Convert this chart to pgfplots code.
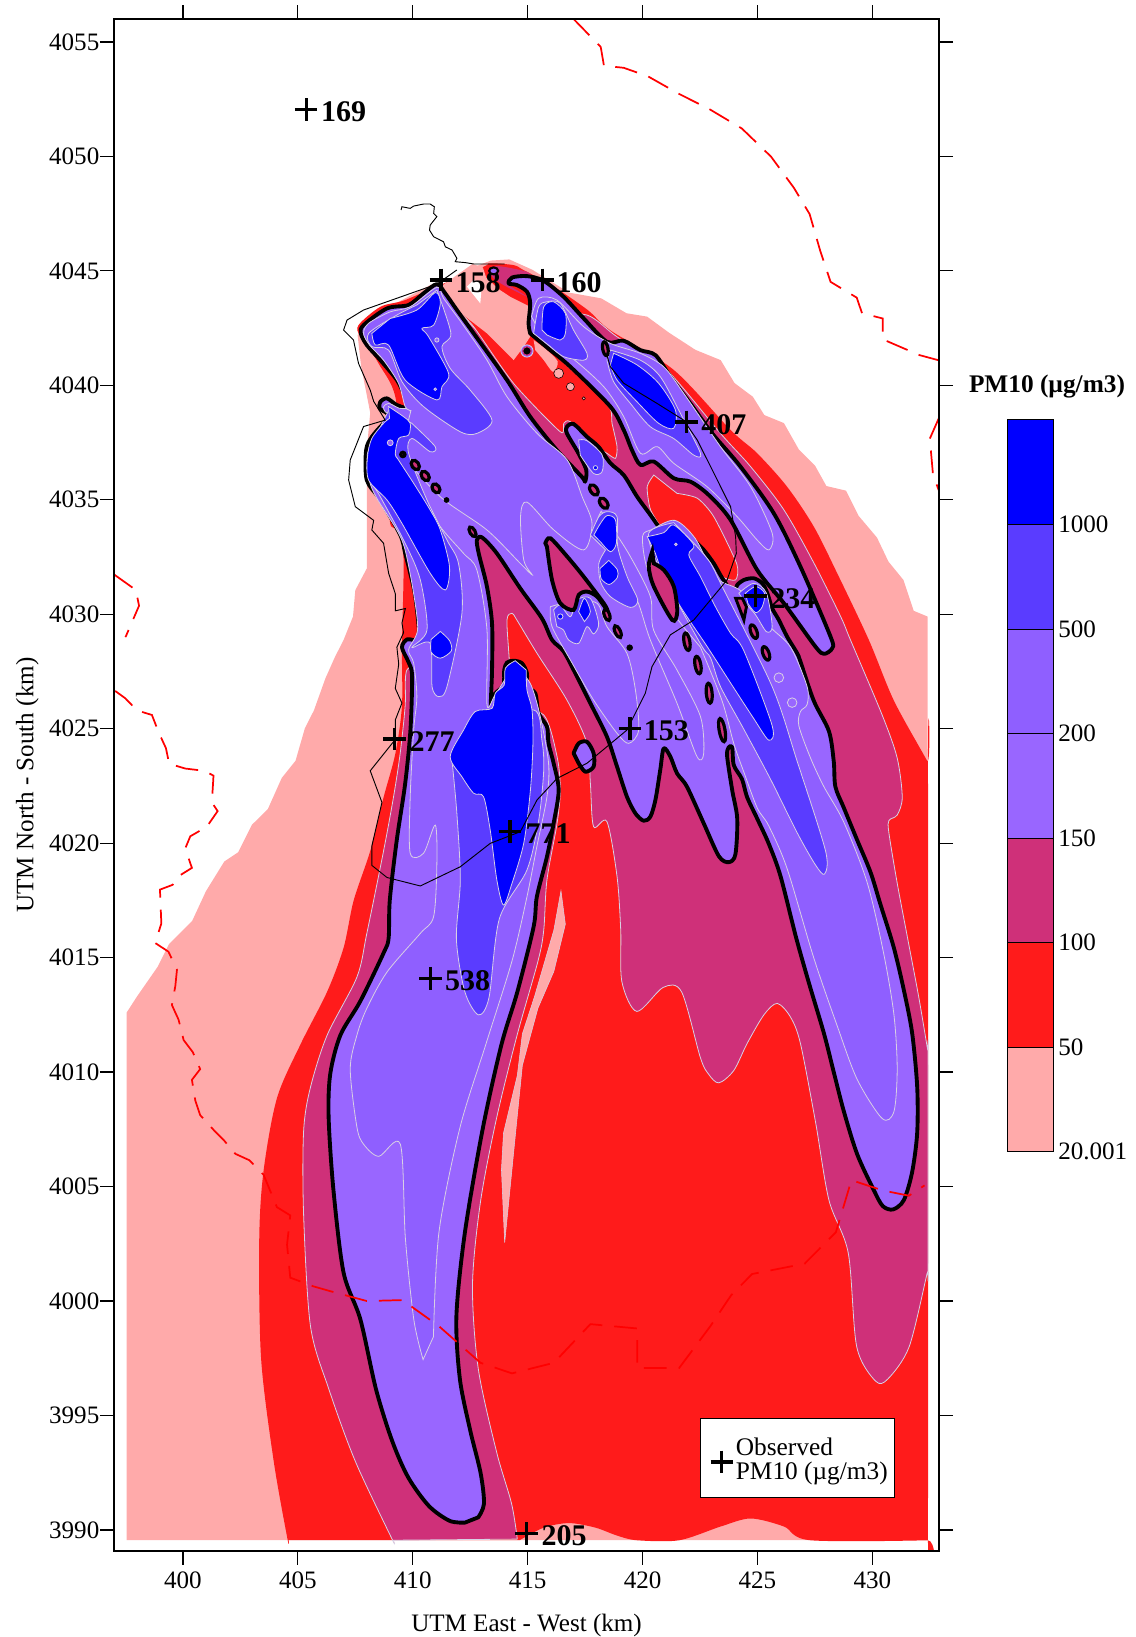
\documentclass[border=0pt]{standalone}
\usepackage{fontspec}
\setmainfont{Liberation Serif}
\usepackage{pgfplots}
\pgfplotsset{compat=1.18}
\definecolor{cpink}{HTML}{FFAAAA}
\definecolor{cred}{HTML}{FF1B1B}
\definecolor{cdash}{HTML}{FF0000}
\definecolor{ccrim}{HTML}{CF3079}
\definecolor{cA}{HTML}{9966FF}
\definecolor{cB}{HTML}{8F5FFF}
\definecolor{cC}{HTML}{5A3CFF}
\definecolor{cD}{HTML}{0000FF}
\definecolor{cline}{HTML}{D8D0E4}
\newcommand{\blob}[5]{\addplot[only marks,mark=*,mark size=#3pt,mark options={fill=ccrim,draw=black,line width=2.4pt,rotate=#4,xscale=#5}] coordinates {(#1,#2)};}
\newcommand{\ring}[4]{\addplot[only marks,mark=*,mark size=#3pt,mark options={fill=#4,draw=cline,line width=0.6pt}] coordinates {(#1,#2)};}
\newcommand{\obs}[5]{\addplot[only marks,mark=+,mark size=8.5pt,mark options={line width=2.4pt,black}] coordinates {(#1,#2)};
  \node[anchor=west,inner sep=0pt,font=\fontsize{22.5}{26}\selectfont\bfseries] at (axis cs:#3,#5) {#4};}
\pgfplotsset{
  lv/.style={fill=#1,draw=cline,line width=0.6pt,smooth,tension=0.5},
  hv/.style={fill=cA,draw=black,line width=2.9pt,smooth,tension=0.5,line join=round},
  dashb/.style={cdash,line width=1.3pt,dash pattern=on 17pt off 9pt},
}
\begin{document}
\begin{tikzpicture}
\path[use as bounding box] (-85.5pt,-64.5pt) rectangle (765.75pt,1163.25pt);
\begin{axis}[
  at={(0pt,0pt)},anchor=south west,
  scale only axis,width=618.75pt,height=1149pt,
  xmin=397,xmax=432.9,ymin=3989.08,ymax=4056,
  xtick={400,405,...,430},ytick={3990,3995,...,4055},
  tick align=outside,tick style={black,line width=0.9pt},major tick length=10.5pt,
  axis line style={line width=1.1pt},
  /pgf/number format/.cd,1000 sep={},assume math mode=true,/pgfplots/.cd,
  tick label style={font=\fontsize{18.8}{22}\selectfont},
  xticklabel style={yshift=-1.5pt},
  yticklabel style={xshift=3pt},
  xlabel={UTM East - West (km)},ylabel={UTM North - South (km)},
  label style={font=\fontsize{18.8}{22}\selectfont},
  xticklabel pos=bottom,yticklabel pos=left,
  xlabel style={yshift=-12pt},
  ylabel style={yshift=1pt},
  clip=true,axis on top,
]
% 20-50
\addplot[fill=cpink,draw=none] coordinates {(397.55,3989.55)(397.55,4012.6)(398,4013.3)(398.9,4014.6)(399.4,4015.6)(400.4,4016.6)(401,4017.9)(401.8,4019.2)(402.4,4019.6)(403,4020.8)(403.7,4021.5)(404.3,4022.85)(404.9,4023.6)(405.3,4025)(405.7,4025.8)(406.2,4027.2)(406.6,4028.1)(407,4028.9)(407.4,4029.9)(407.5,4031.05)(408,4032)(408,4037.2)(408.15,4038.8)(407.75,4040.85)(407.6,4042.2)(409.3,4043.6)(410.8,4044.4)(412.05,4044.15)(412.75,4045.2)(413.4,4045.45)(414.2,4045.5)(415.2,4045.05)(416.8,4044.05)(418.2,4043.8)(419.3,4043.15)(420.2,4043)(421.15,4042.3)(422.3,4041.55)(423.4,4041.1)(424,4040.1)(424.8,4039.5)(425.3,4038.7)(426.15,4038.35)(426.8,4037.2)(427.5,4036.5)(428,4035.6)(428.85,4035.4)(429.4,4034.3)(430.2,4033.35)(430.7,4032.3)(431.35,4031.5)(431.8,4030.15)(432.4,4029.9)(432.4,3989.55)} --cycle;
% 50-100
\addplot[fill=cred,draw=none,smooth,tension=0.5] coordinates {(404.6,3989.55)(404.55,3989.6)(403.95,3993)(403.4,3997.5)(403.32,4002.7)(403.51,4005.7)(404.09,4008.86)(405.11,4011.2)(406.27,4013.5)(406.99,4015.43)(407.43,4017.5)(408.15,4019.66)(408.73,4022)(409.24,4023.9)(409.53,4026)(409.53,4028.55)(409.6,4032.37)(409.4,4033.7)(409,4034.2)(409.3,4039.1)(408.51,4040.96)(407.72,4042.12)(407.64,4042.63)(408.59,4043.43)(409.6,4043.7)(411,4044.3)(413.08,4045.18)(413.37,4045.33)(414.39,4045.25)(414.83,4045.03)(416,4044.4)(417.6,4043.3)(418.6,4042.4)(421.36,4040.67)(423.83,4038.05)(424.99,4037.03)(426.29,4035.57)(427.45,4033.83)(428.47,4031.79)(429.85,4028.87)(430.94,4026.22)(432.38,4023.6)(432.42,4023.4)(432.42,3989.7)(432.4,3989.55)(427.3,3989.55)(426.15,3990.15)(424.7,3990.5)(423.4,3990.15)(421.6,3989.55)(419.75,3989.55)(418.9,3989.75)(417.95,3990.1)(416.8,3990.3)(415.7,3990.1)(414.65,3989.55)} --cycle;
% pink sliver
\addplot[fill=cpink,draw=cline,line width=0.4pt] coordinates {(416.45,4017.92)(416.64,4016.46)(416.14,4014.4)(415.45,4012.8)(414.77,4010.3)(414.45,4007.1)(414,4002.55)(413.86,4005.74)(413.95,4007.34)(414.55,4009.85)(414.77,4011.67)(415.3,4013.3)(416.14,4016.2)} --cycle;
% 100-150
\addplot[fill=ccrim,draw=cline,line width=0.6pt,smooth,tension=0.5] coordinates {(409.15,3989.55)(409.1,3989.6)(407.5,3993)(406.35,3996.15)(405.55,3998.9)(405.25,4003.8)(405.25,4007.4)(405.54,4009.3)(406.27,4011.6)(407.57,4014.15)(408,4016.05)(408.73,4019.66)(409.16,4022)(409.45,4023.9)(409.67,4026)(409.72,4027.5)(410.3,4028.5)(410.5,4035)(410.5,4043)(411.9,4043.2)(414.4,4040.9)(415.3,4042.1)(416,4043)(417.58,4043.07)(418.89,4042.12)(420.92,4040.81)(423.39,4037.9)(424.7,4036.45)(426.15,4034.56)(427.46,4032.23)(428.62,4029.9)(429.05,4028.87)(430.43,4025.59)(431.08,4023.72)(431.3,4022)(431.08,4021.23)(430.72,4020.99)(430.72,4020.45)(431.08,4018.26)(431.52,4015.92)(432.02,4013.27)(432.4,4011)(432.42,4010.8)(432.42,4001.4)(432.38,4001.2)(431.6,3998)(430.68,3996.6)(430.14,3996.5)(429.32,3998)(428.95,4002.1)(428.11,4004.41)(427.53,4007.8)(426.87,4011.25)(426.44,4012.4)(425.86,4013)(425.28,4012.5)(424.55,4011.25)(423.97,4010.07)(423.32,4009.53)(422.88,4009.9)(422.52,4010.62)(421.7,4013.5)(420.9,4013.7)(419.75,4012.65)(419.1,4013.95)(419.05,4016.2)(418.89,4018.54)(418.45,4020.94)(417.87,4020.72)(417.73,4022.6)(417.58,4024.36)(416.71,4026.25)(415.41,4028.29)(414.53,4029.75)(414.32,4030.04)(414.1,4029.75)(414.2,4028)(414.3,4026)(415.7,4025.6)(416.28,4023.78)(416.42,4022.32)(416.28,4020.87)(415.84,4018.4)(415.7,4016.2)(415.45,4014.85)(414.55,4011.65)(413.65,4008)(412.95,4004.35)(412.6,4000.7)(412.85,3997.05)(413.65,3993.4)(414.3,3991.15)(414.55,3989.6)} --cycle;
% lens 1 and lens 2 (50-100)
\addplot[fill=cred,draw=cline,line width=0.6pt,smooth,tension=0.4] coordinates {(411.99,4043.22)(412.65,4042.56)(414.39,4040.08)(416.42,4037.97)(416.57,4038.34)(416.86,4038.41)(418.02,4037.32)(418.45,4037.03)(418.82,4036.81)(418.89,4037.32)(418.67,4038.34)(418.45,4039.21)(415.98,4041.54)(415.11,4042.27)(413,4043.5)} --cycle;
\addplot[fill=cred,draw=cline,line width=0.6pt,smooth,tension=0.4] coordinates {(420.49,4036.08)(420.2,4035.57)(420.35,4034.56)(420.93,4033.68)(421.36,4033.97)(422.38,4033.1)(422.96,4032.37)(423.47,4031.64)(424.05,4031.5)(424.1,4032.2)(423.1,4034.26)(422.38,4035.07)(421.5,4035.28)} --cycle;
% pink wedge between the two northern plumes
\addplot[fill=cpink,draw=none] coordinates {(411.2,4044.3)(412.6,4045.3)(413.05,4045.15)(413.2,4044.7)(413.74,4044.2)(414.24,4043.87)(415.11,4043.43)(415.11,4042.12)(414.83,4041.69)(414.39,4041.1)(413.23,4042.27)(411.92,4043.29)} --cycle;
\addplot[fill=white,draw=none] coordinates {(412.36,4044.31)(412.94,4043.58)(413.01,4044.45)(412.65,4044.6)} --cycle;
\addplot[fill=cpink,draw=none,smooth] coordinates {(415.26,4041.98)(415.84,4041.54)(416.31,4041.03)(416.1,4040.59)(415.7,4041.1)(415.33,4041.54)} --cycle;
\addplot[only marks,mark=*,mark size=3.7pt,mark options={fill=cpink,draw=none}] coordinates {(416.35,4040.52)};
\addplot[only marks,mark=*,mark size=3pt,mark options={fill=cpink,draw=none}] coordinates {(416.86,4039.94)};
\addplot[only marks,mark=*,mark size=1.2pt,mark options={fill=cpink,draw=none}] coordinates {(417.44,4039.43)};
% crimson strip at the top
\addplot[fill=ccrim,draw=none,smooth] coordinates {(413.3,4044.96)(413.66,4045.21)(414.97,4044.96)(415.11,4044.7)(414.32,4044.71)(414.1,4044.45)(414.53,4044.16)(414.97,4043.87)(413.95,4044.38)(413.52,4044.67)} --cycle;
% 150 contour: west, central and south-east plumes in one outline
\addplot[hv] coordinates {(412.27,3990.32)(411.6,3990.4)(410.7,3991.05)(409.8,3992.3)(409.1,3993.9)(408.4,3996.15)(407.72,3999.2)(406.99,4001.24)(406.55,4004.84)(406.34,4008.01)(406.41,4009.92)(406.85,4011.61)(407.72,4013.1)(408.73,4015.2)(408.95,4015.85)(409,4017.5)(409.3,4020.1)(409.67,4022.6)(409.9,4024.95)(409.97,4027.3)(409.82,4027.9)(409.53,4028.55)(409.75,4028.9)(410.26,4029)(410.11,4030.77)(409.89,4031.79)(409.67,4032.66)(409.46,4033.45)(408.59,4034.99)(408,4035.86)(407.97,4037.17)(408.22,4037.75)(408.73,4038.34)(408.99,4038.56)(408.88,4038.78)(408.56,4038.99)(408.59,4039.28)(408.88,4039.43)(409.31,4039.14)(409.92,4038.98)(409.67,4039.5)(409.31,4040.23)(408.59,4041.1)(408,4041.76)(407.74,4042.27)(407.86,4042.63)(408.88,4043.36)(409.82,4043.51)(410.47,4044.02)(411.05,4044.42)(411.41,4044.02)(411.92,4043.29)(412.65,4042.27)(414.1,4040.23)(415.11,4038.63)(416.27,4037.17)(417.36,4036)(417.5,4035.79)(417.55,4036.3)(417.21,4037.03)(416.71,4037.9)(416.71,4038.19)(417,4038.31)(417.57,4037.76)(418.08,4037.32)(418.6,4036.6)(419.18,4036.08)(419.76,4035.14)(420.34,4034.34)(420.85,4033.61)(420.99,4033.46)(421.36,4033.94)(421.65,4033.75)(422.23,4033.24)(422.66,4032.81)(423.1,4032.22)(423.43,4031.64)(423.83,4031.06)(424.02,4031.03)(424.12,4031.28)(424.41,4031.5)(424.84,4031.57)(425.21,4031.35)(425.43,4030.92)(425.64,4030.26)(425.93,4029.75)(426.29,4029.02)(426.73,4028.29)(426.87,4027.93)(427.45,4026.22)(428.11,4024.89)(428.32,4023.57)(428.39,4022.47)(428.76,4021.54)(429.34,4020.13)(429.92,4018.73)(430.35,4017.33)(430.93,4015.45)(431.37,4013.58)(431.73,4011.71)(431.95,4009.37)(431.95,4007.34)(431.73,4005.63)(431.37,4004.41)(430.9,4004)(430.45,4004.15)(430.06,4004.85)(429.34,4006.41)(428.76,4008.28)(428.32,4010)(427.89,4011.7)(427.24,4013.89)(426.67,4015.92)(426,4018.57)(425.49,4019.98)(424.99,4021.07)(424.55,4022.01)(424.33,4022.79)(423.97,4023.41)(423.9,4024.19)(423.75,4024.19)(423.68,4023.8)(423.9,4022.32)(424.12,4021.07)(424.04,4019.51)(423.75,4019.17)(423.32,4019.43)(422.66,4020.87)(421.93,4022.47)(421.5,4023.05)(421.21,4023.78)(420.92,4024.14)(420.77,4023.2)(420.56,4021.89)(420.34,4021.16)(420.05,4020.98)(419.69,4021.3)(419.32,4022.03)(418.89,4023.34)(418.45,4024.65)(417.73,4026.11)(417.15,4027.27)(416.57,4028.37)(416.06,4028.88)(415.62,4029.82)(414.68,4031.13)(413.66,4032.66)(413.01,4033.36)(412.79,4033.24)(412.87,4032.66)(413.23,4031.2)(413.45,4029.6)(413.45,4027.56)(413.4,4026)(413.56,4026.5)(413.95,4026.91)(413.98,4027.56)(414.1,4027.89)(414.39,4027.97)(414.75,4027.86)(414.97,4027.42)(414.97,4026.84)(415.33,4026.55)(415.48,4025.67)(415.84,4025.09)(415.91,4024.36)(416.13,4023.49)(416.35,4022.32)(416.13,4020.87)(415.84,4019.41)(415.4,4017.66)(415.26,4016.35)(414.55,4013.5)(413.86,4011.2)(413.05,4007.55)(412.27,4003)(411.9,3999.35)(412.05,3996.6)(412.5,3994.35)(412.95,3992.5)(413.1,3991.15)(412.85,3990.55)} --cycle;
% 150 contour: northern plume
\addplot[hv] coordinates {(415.11,4042.27)(415.04,4042.71)(415.11,4043.58)(414.97,4044.09)(414.53,4044.38)(414.17,4044.45)(414.32,4044.71)(414.97,4044.77)(415.69,4044.57)(416.56,4043.87)(417.44,4042.92)(418.45,4041.9)(419.17,4041.95)(419.9,4041.54)(420.56,4041.32)(421.21,4040.38)(422.08,4039.21)(423.03,4037.9)(424.26,4036.45)(425.71,4034.41)(426.87,4032.08)(428.18,4029.02)(428.25,4028.51)(427.89,4028.27)(427.52,4028.59)(426.15,4030.48)(424.99,4031.93)(423.83,4034.12)(422.88,4035.21)(422.09,4035.79)(421.36,4035.94)(420.49,4036.67)(419.91,4036.52)(419.54,4037.17)(419.18,4038.05)(418.6,4039.07)(416.86,4040.81)(415.98,4041.54)} --cycle;
% small closed 150 contour
\addplot[hv] coordinates {(417,4023.93)(417.22,4024.36)(417.58,4024.43)(417.87,4023.93)(417.87,4023.34)(417.51,4023.12)(417.22,4023.49)} --cycle;
% 200 contour
\addplot[lv=cB] coordinates {(410.45,3997.44)(410.05,3999.17)(409.68,4002.73)(409.46,4006.85)(408.52,4006.32)(407.86,4006.85)(407.57,4007.6)(407.28,4010.13)(407.57,4011.61)(408,4012.78)(408.88,4014.37)(410.33,4016.06)(410.91,4016.8)(411.05,4019.12)(410.98,4020.79)(410.47,4019.56)(409.89,4019.56)(409.89,4022.03)(410.04,4024.94)(410.18,4026.4)(410.04,4027.86)(409.82,4028.44)(410.21,4029.31)(410.04,4030.9)(409.67,4032.8)(409.31,4033.68)(408.44,4035.06)(408.11,4035.86)(408.03,4037.03)(408.44,4037.61)(408.95,4038.26)(409.09,4038.63)(408.8,4038.85)(408.73,4039.06)(408.95,4039.21)(409.4,4039)(409.92,4038.8)(409.38,4037.03)(409.89,4035.72)(411.2,4033.82)(412.21,4032.66)(412.79,4031.93)(413.23,4029.31)(413.23,4026.04)(413.6,4026.5)(414.4,4027.6)(415.1,4027)(415.55,4025.53)(415.91,4023.49)(415.84,4022.03)(415.4,4019.85)(414.97,4017.66)(414.32,4014.86)(413.18,4011.21)(412.05,4007.56)(411.14,4003)(410.9,3998.44)} --cycle;
\addplot[lv=cB] coordinates {(409.92,4038.9)(409.67,4039.07)(409.38,4040.09)(408.73,4041.1)(408.12,4041.76)(407.86,4042.27)(408.08,4042.71)(409.02,4043.21)(409.89,4043.43)(411.05,4044.28)(411.34,4043.8)(412.14,4042.71)(413.23,4041.1)(414.1,4039.5)(415.41,4037.9)(416.72,4036.74)(417.37,4035.14)(417.8,4033.97)(417.44,4032.81)(416.14,4033.68)(414.97,4034.9)(414.69,4034.26)(414.83,4032.37)(415.2,4031.72)(414.7,4032.2)(413.23,4033.68)(411.2,4035.13)(409.46,4037.03)} --cycle;
\addplot[lv=cB] coordinates {(415.99,4030.33)(416.06,4029.46)(416.86,4028)(417.87,4026.25)(418.89,4024.8)(419.4,4024.36)(419.83,4024.94)(419.69,4026.69)(419.32,4028.29)(418.45,4029.46)(418.02,4030.48)(417,4030.62)} --cycle;
\addplot[lv=cB] coordinates {(418.2,4034.5)(418,4033.68)(418.89,4032.08)(419.76,4030.62)(420.34,4028.87)(421.5,4026.11)(422.37,4023.78)(422.66,4023.92)(422.52,4025.53)(421.5,4027.56)(420.48,4029.31)(420.34,4030.77)(419.47,4032.52)(418.74,4033.68)} --cycle;
\addplot[lv=cB] coordinates {(415.17,4043)(415.48,4043.8)(416.28,4043.72)(417.44,4042.56)(418.6,4041.83)(419.9,4041.4)(420.92,4040.81)(421.79,4039.65)(423.39,4037.32)(424.7,4035.57)(425.64,4033.54)(425.5,4032.81)(424.99,4033.24)(424.12,4034.26)(422.81,4035.57)(421.36,4036.59)(420.64,4037.32)(419.91,4037.03)(419.18,4038.63)(418.31,4039.94)(416.86,4041.25)(415.7,4041.98)} --cycle;
\addplot[lv=cB] coordinates {(422.52,4028.56)(423.46,4026.22)(423.97,4024.35)(424.41,4023.1)(424.99,4021.54)(425.49,4020.76)(426.29,4018.89)(427.45,4014.99)(428.47,4012.02)(429.34,4009.68)(430.43,4007.97)(430.94,4008.28)(431.08,4010.15)(430.94,4012.49)(430.5,4015.14)(429.78,4018.26)(428.76,4020.91)(427.89,4022.47)(427.31,4023.72)(426.8,4025.13)(426.87,4025.75)(427.16,4026.06)(427.16,4026.84)(426.44,4028.56)(425.5,4029.5)(424.3,4031)(423.2,4031.6)(422.3,4033.3)(421.4,4034.1)(420.4,4033.7)(420,4033.4)(420.2,4032)(421,4030.5)(421.9,4029.3)} --cycle;
\ring{425.93}{4027.23}{3.6}{cA}
\ring{426.51}{4026.14}{3.6}{cA}
% 500 contour
\addplot[lv=cC] coordinates {(411.05,4044.16)(411.66,4042.27)(411.27,4041.69)(411.63,4040.74)(412.5,4039.79)(413.45,4038.48)(412.79,4037.9)(412.07,4037.97)(410.47,4039.07)(409.53,4040.16)(408.95,4041.54)(408.22,4041.69)(408.08,4042.27)(409.31,4043.07)(410.18,4043.51)} --cycle;
\addplot[lv=cC] coordinates {(409.96,4038.34)(410.98,4037.32)(410.76,4037.1)(409.96,4037.68)(409.82,4037.03)(410.62,4034.99)(411.49,4033.24)(411.99,4032.22)(412.14,4030.04)(411.49,4026.84)(411.13,4026.4)(410.84,4026.84)(410.76,4028.73)(409.97,4028.55)(410.62,4029.31)(410.33,4031.5)(409.67,4033.1)(408.59,4035.13)(408.08,4036)(408.08,4037.03)(408.95,4038.9)} --cycle;
\addplot[lv=cC] coordinates {(411.72,4023.49)(411.92,4021.3)(412.07,4018.39)(411.9,4015.8)(412.27,4013.5)(412.86,4012.5)(413.32,4013.27)(413.77,4016.7)(414.97,4018.83)(415.48,4021)(415.7,4023.2)(415.62,4024.5)(415.26,4025.82)(413,4025)} --cycle;
\addplot[lv=cC] coordinates {(418.6,4041.54)(419.9,4041.1)(420.77,4040.38)(421.65,4038.77)(422.52,4037.03)(422.23,4036.95)(421.35,4037.68)(420.34,4038.19)(419.47,4039.21)(418.74,4040.16)(418.45,4041.1)} --cycle;
\addplot[lv=cC] coordinates {(415.26,4042.27)(415.48,4043.43)(415.84,4043.65)(416.42,4043.58)(417,4042.41)(417.58,4041.4)(417.44,4041.1)(416.57,4041.25)(415.99,4041.69)} --cycle;
\addplot[lv=cC] coordinates {(417.22,4037.61)(417.58,4037.58)(418.24,4036.96)(418.24,4036.23)(417.87,4036.15)(417.29,4036.95)} --cycle;
\addplot[lv=cC] coordinates {(417.73,4033.46)(418.1,4034.26)(418.46,4034.48)(418.89,4034.26)(418.92,4032.95)(419.33,4031.64)(419.79,4030.62)(419.47,4030.3)(418.6,4030.77)(418.17,4031.42)(418.1,4032.23)(418.39,4032.81)} --cycle;
\addplot[lv=cC] coordinates {(416.13,4030.19)(416.42,4030.4)(416.86,4029.89)(417.15,4030.62)(417.73,4030.69)(418.09,4029.6)(417.87,4029.14)(417.58,4029.46)(417.22,4028.73)(416.78,4028.88)(416.56,4029.31)(416.27,4029.46)} --cycle;
\addplot[lv=cC] coordinates {(422.3,4033.03)(422.96,4032.23)(423.47,4031.2)(425.64,4026.84)(426.73,4023.57)(427.96,4019.67)(427.92,4018.65)(427.53,4019.04)(426.73,4020.45)(425.57,4022.79)(424.41,4024.97)(423.39,4026.84)(422.96,4028.09)(422.52,4028.71)(420.78,4031.93)(420.27,4033.54)(421.36,4034)} --cycle;
\addplot[lv=cC] coordinates {(424.19,4030.92)(424.84,4031.35)(425.39,4030.92)(425.64,4029.46)(425.39,4029.24)(424.92,4029.97)(424.48,4030.48)} --cycle;
% 1000 contour
\addplot[lv=cD] coordinates {(408.22,4042.27)(408.37,4041.76)(408.95,4041.76)(409.67,4040.23)(411.05,4039.36)(411.27,4039.94)(411.56,4040.52)(410.69,4042.12)(410.4,4042.49)(410.91,4042.63)(411.2,4043.58)(410.98,4044.05)(410.18,4043.29)(409.02,4042.92)} --cycle;
\addplot[lv=cD] coordinates {(408.95,4039.07)(409.6,4038.63)(409.89,4038.34)(409.82,4037.83)(409.39,4037.68)(409.24,4037)(409.38,4036.74)(410.04,4035.72)(410.76,4034.55)(411.2,4033.68)(411.6,4032.08)(411.42,4031.06)(410.76,4031.79)(409.53,4033.97)(408.88,4034.99)(408.08,4035.86)(408.03,4036.88)(408.22,4037.68)(408.73,4038.34)(408.99,4038.56)} --cycle;
\addplot[lv=cD] coordinates {(411.2,4029.25)(411.6,4028.85)(411.68,4028.4)(411.2,4028.08)(410.8,4028.35)(410.8,4028.9)} --cycle;
\addplot[lv=cD] coordinates {(414.46,4027.97)(414.03,4027.64)(413.98,4026.91)(413.59,4026.55)(413.45,4025.89)(412.72,4025.75)(412.21,4024.94)(411.63,4023.78)(412.14,4022.9)(412.65,4022.18)(413.08,4022.03)(413.37,4020.58)(413.66,4018.39)(413.95,4017.3)(414.32,4018.25)(414.83,4020)(415.12,4022.32)(415.23,4024.36)(415.19,4025.82)(414.97,4026.69)(414.94,4027.56)} --cycle;
\addplot[lv=cD] coordinates {(418.74,4041.4)(419.76,4040.89)(420.7,4040.09)(421.43,4038.92)(421.35,4038.12)(420.7,4038.34)(419.76,4039.28)(418.89,4040.23)(418.6,4040.89)} --cycle;
\addplot[lv=cD] coordinates {(415.62,4042.42)(415.7,4043.43)(416.13,4043.65)(416.64,4043.14)(416.64,4042.27)(416.42,4041.98)(415.84,4042.2)} --cycle;
\addplot[lv=cD] coordinates {(417.88,4033.46)(418.17,4033.97)(418.46,4034.31)(418.82,4034.12)(418.86,4033.1)(418.6,4032.73)(418.2,4033.13)} --cycle;
\addplot[lv=cD] coordinates {(418.53,4032.35)(418.9,4031.95)(418.9,4031.6)(418.55,4031.3)(418.2,4031.55)(418.15,4032)} --cycle;
\addplot[lv=cD] coordinates {(417.22,4030.11)(417.47,4030.7)(417.73,4030.11)(417.47,4029.68)} --cycle;
\addplot[lv=cD] coordinates {(420.2,4033.39)(420.93,4033.57)(421.36,4033.9)(422.23,4033.03)(422.01,4032.59)(422.52,4031.64)(423.17,4030.33)(423.83,4029.17)(424.41,4028.4)(425.64,4025.13)(425.49,4024.5)(424.84,4025.44)(423.83,4027)(422.81,4028.59)(421.65,4030.33)(420.93,4031.64)(420.56,4032.66)} --cycle;
\addplot[lv=cD] coordinates {(424.48,4030.92)(424.92,4031.21)(425.31,4030.92)(425.21,4030.33)(424.92,4030.07)(424.58,4030.48)} --cycle;
\ring{409.02}{4037.49}{2.2}{cB}
\ring{411.05}{4041.98}{1.6}{cB}
\ring{410.98}{4039.83}{1}{cB}
\ring{417.95}{4036.4}{1.6}{cD}
\ring{421.45}{4033.05}{1}{cB}
\ring{416.42}{4029.9}{2}{cD}
% closed holes of the 150 contour
\addplot[fill=ccrim,draw=black,line width=2.9pt,smooth,tension=0.5] coordinates {(415.77,4033.1)(415.99,4033.32)(416.72,4032.52)(417.44,4031.64)(418.31,4030.48)(418.45,4030.19)(418.02,4030.77)(417.58,4030.99)(417.22,4030.84)(417,4030.19)(416.42,4030.48)(416.06,4031.5)(415.84,4032.95)} --cycle;
\addplot[fill=ccrim,draw=black,line width=2.9pt,smooth,tension=0.5] coordinates {(420.42,4032.74)(420.27,4032.08)(420.49,4031.21)(421.29,4029.75)(421.51,4030.11)(421.36,4031.21)(420.93,4031.93)(420.49,4032.22)} --cycle;
\addplot[fill=ccrim,draw=black,line width=2.2pt] coordinates {(424.05,4030.7)(424.41,4029.75)(424.52,4030.33)(424.34,4030.7)} --cycle;
\blob{409.57}{4036.98}{1.6}{0}{1}
\blob{410.11}{4036.52}{2.6}{-55}{1.5}
\blob{410.54}{4036.04}{2.6}{-55}{1.5}
\blob{411.01}{4035.5}{2.6}{-55}{1.4}
\addplot[only marks,mark=*,mark size=1.9pt,mark options={black}] coordinates {(411.47,4034.99)};
\blob{412.6}{4033.6}{2}{-60}{2}
\blob{417.88}{4035.43}{2.6}{-55}{1.7}
\blob{418.31}{4034.85}{2.6}{-55}{1.7}
\blob{418.45}{4029.97}{2}{-70}{2.2}
\blob{418.92}{4029.24}{2}{-65}{2.4}
\addplot[only marks,mark=*,mark size=2.2pt,mark options={black}] coordinates {(419.44,4028.54)};
\blob{421.93}{4028.8}{2.2}{-80}{3}
\blob{422.41}{4027.78}{2.2}{-80}{3}
\blob{422.9}{4026.55}{2.2}{-85}{3.4}
\blob{423.46}{4024.94}{2.2}{-80}{4}
\blob{424.84}{4029.24}{2.3}{-70}{2.3}
\blob{425.37}{4028.29}{2.3}{-70}{2.3}
\blob{418.38}{4041.6}{2}{-80}{2.6}
\addplot[only marks,mark=*,mark size=4.6pt,mark options={fill=cB,draw=cline,line width=0.6pt}] coordinates {(414.97,4041.5)};
\addplot[only marks,mark=*,mark size=3.2pt,mark options={fill=black,draw=ccrim,line width=0.8pt}] coordinates {(414.97,4041.5)};
\addplot[only marks,mark=*,mark size=2.6pt,mark options={fill=cA,draw=black,line width=1.6pt,xscale=1.3}] coordinates {(413.52,4045)};
% coastline
\addplot[black,line width=0.7pt] coordinates {(409.49,4047.66)(409.53,4047.8)(409.89,4047.73)(410.04,4047.83)(410.47,4047.92)(410.76,4047.92)(410.94,4047.8)(410.91,4047.51)(411.05,4047.37)(410.76,4047)(410.73,4046.78)(410.91,4046.49)(411.34,4046.27)(411.42,4046.05)(411.71,4045.91)(411.92,4045.55)(411.85,4045.4)(412.29,4045.36)(412.65,4045.3)(414,4045.3)};
\addplot[black,line width=0.7pt] coordinates {(411.92,4045.04)(411.05,4044.42)(407.86,4043.29)(407.14,4042.85)(406.99,4042.41)(407.42,4041.98)(407.64,4040.96)(408.15,4039.79)(408.3,4039.3)(408.8,4038.48)(407.86,4038.2)(407.28,4036.74)(407.21,4035.86)(407.5,4034.7)(408.3,4034.1)(408.22,4033.68)(408.73,4033.1)(408.95,4031.79)(409.24,4030.9)(409.24,4030.15)(409.68,4030.25)(409.53,4029.62)(409.6,4029.19)(409.31,4028.56)(409.39,4027.82)(409.24,4026.76)(409.53,4026.12)(409.24,4025.38)(409.24,4024.53)(408.15,4023.16)(408.66,4021.78)(408.22,4019.87)(408.22,4019.03)(408.88,4018.5)(410.33,4018.13)(412.07,4018.97)(413.37,4019.99)(414.68,4020.5)(415.41,4021.89)(416.28,4022.83)(417.58,4023.49)(419.32,4024.94)(420.12,4026.55)(420.41,4027.71)(421.21,4029.1)(422.23,4029.75)(423.68,4031.5)(424.08,4032.66)(424.05,4033.39)(423.83,4034.7)(422.96,4036.45)(422.38,4037.61)(421.79,4038.48)(420.63,4039.21)(419.18,4040.09)(418.6,4040.81)(418.38,4041.54)};
% red dashed boundary
\addplot[dashb] coordinates {(417,4056)(418.18,4054.78)(418.32,4053.96)(419.18,4053.87)(420.23,4053.5)(421.59,4052.73)(422.95,4052.04)(424.32,4051.22)(425.59,4049.99)(426.59,4048.62)(427.27,4047.48)(427.73,4045.88)(428.18,4044.52)(429.32,4043.83)(429.55,4043.15)(430.45,4042.92)(430.45,4042.01)(432.05,4041.32)(432.9,4041.09)};
\addplot[dashb] coordinates {(432.9,4038.58)(432.5,4037.67)(432.64,4036.08)(432.9,4035.39)};
\addplot[dashb] coordinates {(397,4031.74)(397.95,4031.06)(398.09,4030.37)(397.5,4029)};
\addplot[dashb] coordinates {(397.05,4026.65)(397.49,4026.33)(398,4025.8)(398.65,4025.6)(398.94,4024.85)(399.26,4024.15)(399.4,4023.47)(400.1,4023.26)(400.93,4023.16)(401.33,4022.95)(401.26,4021.78)(401.51,4021.4)(401.04,4020.72)(400.32,4020.3)(400.1,4019.77)(400.39,4018.92)(399.88,4018.6)(399.55,4018.18)(399,4017.97)(399.06,4016.49)(398.79,4015.64)(399.37,4015.26)(399.74,4014.47)(399.67,4013.77)(399.52,4012.93)(399.81,4012.29)(400.03,4011.4)(400.43,4010.87)(400.75,4010.13)(400.39,4009.66)(400.54,4008.75)(400.75,4008.12)(401.33,4007.48)(401.8,4007)(402.28,4006.43)(402.89,4006.15)(403.51,4005.51)(403.77,4004.88)(404.09,4004.1)(404.67,4003.74)(404.53,4002.46)(404.67,4001.02)(405.68,4000.64)(406.41,4000.43)(408,4000)(409.55,4000.04)(411.14,3998.9)(412.95,3997.3)(414.32,3996.84)(416.14,3997.3)(417.73,3998.99)(419.77,3998.8)(419.77,3997.07)(421.59,3997.07)(422.95,3998.9)(423.86,4000.26)(424.77,4001.18)(427.05,4001.63)(428.41,4003)(429.09,4005.28)(430.45,4004.83)(431.59,4004.6)(432.27,4005.05)};
% observations
\obs{405.36}{4052.05}{406}{169}{4051.95}
\obs{411.23}{4044.6}{411.85}{158}{4044.5}
\obs{415.64}{4044.6}{416.25}{160}{4044.5}
\obs{421.9}{4038.4}{422.55}{407}{4038.3}
\obs{424.9}{4030.8}{425.55}{234}{4030.7}
\obs{419.45}{4025}{420.05}{153}{4024.9}
\obs{409.2}{4024.55}{409.85}{277}{4024.45}
\obs{414.23}{4020.5}{414.9}{771}{4020.4}
\obs{410.77}{4014.1}{411.4}{538}{4014}
\obs{414.95}{3989.85}{415.6}{205}{3989.75}
% legend box
\addplot[fill=white,draw=black,line width=0.7pt] coordinates {(422.5,3994.85)(430.95,3994.85)(430.95,3991.4)(422.5,3991.4)} --cycle;
\addplot[only marks,mark=+,mark size=8.5pt,mark options={line width=2.4pt,black}] coordinates {(423.45,3992.97)};
\node[anchor=west,inner sep=0pt,font=\fontsize{19}{22}\selectfont] at (axis cs:424.05,3993.65) {Observed};
\node[anchor=west,inner sep=0pt,font=\fontsize{19}{22}\selectfont] at (axis cs:424.05,3992.45) {PM10 (µg/m3)};
\end{axis}
\begin{axis}[
  at={(670.2pt,299.4pt)},anchor=south west,
  scale only axis,width=34.5pt,height=549pt,
  xmin=0,xmax=1,ymin=0,ymax=7,xtick=\empty,
  ytick={0,1,2,3,4,5,6},
  yticklabels={20.001,50,100,150,200,500,1000},
  yticklabel pos=right,major tick length=0pt,
  tick label style={font=\fontsize{18.8}{22}\selectfont},
  axis line style={line width=0.6pt},axis on top,
]
\addplot[fill=cpink,draw=none] coordinates {(0,0)(1,0)(1,1)(0,1)} --cycle;
\addplot[fill=cred,draw=none] coordinates {(0,1)(1,1)(1,2)(0,2)} --cycle;
\addplot[fill=ccrim,draw=none] coordinates {(0,2)(1,2)(1,3)(0,3)} --cycle;
\addplot[fill=cA,draw=none] coordinates {(0,3)(1,3)(1,4)(0,4)} --cycle;
\addplot[fill=cB,draw=none] coordinates {(0,4)(1,4)(1,5)(0,5)} --cycle;
\addplot[fill=cC,draw=none] coordinates {(0,5)(1,5)(1,6)(0,6)} --cycle;
\addplot[fill=cD,draw=none] coordinates {(0,6)(1,6)(1,7)(0,7)} --cycle;
\addplot[black,line width=0.6pt] coordinates {(0,1)(1,1)};
\addplot[black,line width=0.6pt] coordinates {(0,2)(1,2)};
\addplot[black,line width=0.6pt] coordinates {(0,3)(1,3)};
\addplot[black,line width=0.6pt] coordinates {(0,4)(1,4)};
\addplot[black,line width=0.6pt] coordinates {(0,5)(1,5)};
\addplot[black,line width=0.6pt] coordinates {(0,6)(1,6)};
\end{axis}
\node[font=\fontsize{19}{22}\selectfont\bfseries] at (699.75pt,873.5pt) {PM10 (µg/m3)};
\end{tikzpicture}
\end{document}
